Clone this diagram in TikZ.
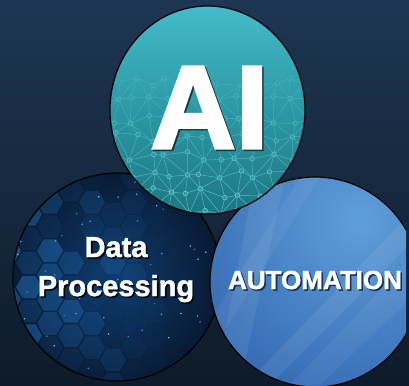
\documentclass[tikz,border=0pt]{standalone}
\usepackage{fontspec}
\setmainfont{Liberation Sans}
\newfontfamily\heavyfont[FakeBold=1.6]{Liberation Sans}
\newfontfamily\hugefont[FakeBold=2.6]{Liberation Sans}
\definecolor{bgtop}{HTML}{1D3653}
\definecolor{bgbot}{HTML}{0E1B29}
\definecolor{aitop}{HTML}{44BBC9}
\definecolor{aimid}{HTML}{2C98A5}
\definecolor{aibot}{HTML}{1E7783}
\definecolor{meshc}{HTML}{70D8E0}
\definecolor{dpin}{HTML}{0F3B6C}
\definecolor{dpout}{HTML}{081A33}
\definecolor{hexc}{HTML}{2A8CE8}
\definecolor{dotc}{HTML}{5CC8FF}
\definecolor{autin}{HTML}{5F9FD9}
\definecolor{autout}{HTML}{3064AF}
\definecolor{aishad}{HTML}{0E3E45}
\definecolor{dpshad}{HTML}{030B16}
\definecolor{autshad}{HTML}{17345E}
\newcommand\shtext[2]{\makebox[0pt][l]{\hspace{1.6pt}\raisebox{-1.6pt}{\textcolor{#1}{#2}}}#2}
\tikzset{
  meshline/.style={meshc, line width=0.5pt},
  meshnode/.style={meshc, line width=0.6pt, fill=aimid},
  rim/.style={black, line width=1.2pt},
  bigtxt/.style={white, font=\hugefont\bfseries\fontsize{118}{118}\selectfont, inner sep=0pt},
  midtxt/.style={white, font=\heavyfont\bfseries\fontsize{29}{29}\selectfont, inner sep=0pt},
  auttxt/.style={white, font=\heavyfont\bfseries\fontsize{26}{26}\selectfont, inner sep=0pt}
}
\begin{document}
\begin{tikzpicture}[x=1pt,y=-1pt]
\useasboundingbox (0,0) rectangle (409,385);
\fill[top color=bgtop, bottom color=bgbot] (0,0) rectangle (409,385);

% ---------- Data Processing circle ----------
\begin{scope}
  \clip (117,277) circle[radius=104pt];
  \fill[inner color=dpin, outer color=dpout] (117,277) circle[radius=104pt];
  \pgfmathsetseed{11}
  \foreach \c in {0,...,7}{
    \foreach \r in {0,...,8}{
      \pgfmathsetmacro\hx{8+\c*21}
      \pgfmathsetmacro\hy{178+\r*24.25+mod(\c,2)*12.12}
      \pgfmathsetmacro\op{max(0,0.65*rnd*(1-\c/7.5))}
      \fill[hexc, opacity=\op] (\hx,\hy) +(0:13) -- +(60:13) -- +(120:13) -- +(180:13) -- +(240:13) -- +(300:13) -- cycle;
    }
  }
  \foreach \k in {1,...,50}{
    \pgfmathsetmacro\dx{15+rnd*200}
    \pgfmathsetmacro\dy{175+rnd*200}
    \pgfmathsetmacro\op{0.4+0.6*rnd}
    \fill[dotc, opacity=\op] (\dx,\dy) circle[radius=0.9pt];
  }
\end{scope}
\draw[rim] (117,277) circle[radius=104pt];

% ---------- Automation circle ----------
\begin{scope}
  \clip (0,0) rectangle (406,385);
  \clip (315,282) circle[radius=105pt];
  \fill[inner color=autin, outer color=autout] (360,220) circle[radius=210pt];
  \fill[white, opacity=0.07] (255,177) -- (285,177) -- (240,385) -- (215,385) -- cycle;
  \fill[white, opacity=0.06] (300,177) -- (320,177) -- (225,330) -- (210,320) -- cycle;
  \fill[white, opacity=0.07] (409,215) -- (409,245) -- (270,385) -- (245,385) -- cycle;
  \fill[white, opacity=0.05] (409,260) -- (409,300) -- (320,385) -- (290,385) -- cycle;
\end{scope}
\begin{scope}
  \clip (0,0) rectangle (406,385);
  \draw[rim] (315,282) circle[radius=105pt];
\end{scope}

% ---------- AI circle ----------
\begin{scope}
  \clip (207.5,110) ellipse[x radius=97.5pt, y radius=104pt];
  \fill[top color=aitop, bottom color=aibot, middle color=aimid] (207.5,110) ellipse[x radius=97.5pt, y radius=104pt];
  \pgfmathsetseed{3}
  \foreach \i in {0,...,13}{
    \foreach \j in {0,...,8}{
      \pgfmathsetmacro\px{98+\i*17.5+5*rand}
      \pgfmathsetmacro\py{82+\j*18.5+5*rand}
      \coordinate (m-\i-\j) at (\px,\py);
    }
  }
  \foreach \i in {0,...,12}{
    \foreach \j in {0,...,7}{
      \pgfmathtruncatemacro\ii{\i+1}
      \pgfmathtruncatemacro\jj{\j+1}
      \pgfmathtruncatemacro\pp{mod(\i+\j,2)}
      \pgfmathsetmacro\op{min(0.7,0.25+0.07*\j)}
      \draw[meshline, opacity=\op] (m-\i-\j) -- (m-\ii-\j);
      \draw[meshline, opacity=\op] (m-\i-\j) -- (m-\i-\jj);
      \ifnum\pp=0
        \draw[meshline, opacity=\op] (m-\i-\j) -- (m-\ii-\jj);
      \else
        \draw[meshline, opacity=\op] (m-\ii-\j) -- (m-\i-\jj);
      \fi
    }
  }
  \foreach \i in {0,...,13}{
    \foreach \j in {0,...,8}{
      \pgfmathsetmacro\op{min(0.9,0.35+0.08*\j)}
      \draw[meshnode, opacity=\op] (m-\i-\j) circle[radius=2.3pt];
    }
  }
\end{scope}
\draw[rim] (207.5,110) ellipse[x radius=97.5pt, y radius=104pt];

% ---------- Texts ----------
\node[bigtxt, anchor=base] (ai) at (209.5,148) {\shtext{aishad}{AI}};
\node[midtxt, anchor=base] (data) at (116,257) {\shtext{dpshad}{Data}};
\node[midtxt, anchor=base] (proc) at (116,296) {\shtext{dpshad}{Processing}};
\node[auttxt, anchor=base] (aut) at (315,289) {\shtext{autshad}{AUTOMATION}};
\end{tikzpicture}
\end{document}
